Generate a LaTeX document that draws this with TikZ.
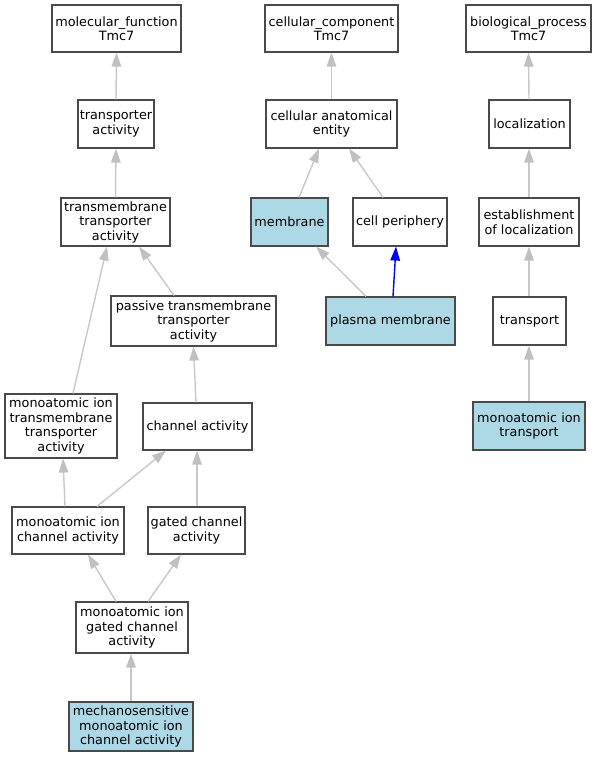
\documentclass[tikz,border=0pt]{standalone}
\usepackage{fontspec}
\setmainfont{DejaVu Sans}
\usetikzlibrary{arrows.meta}
\definecolor{edgegray}{HTML}{C8C8C8}
\definecolor{headgray}{HTML}{C0C0C0}
\definecolor{boxborder}{HTML}{4A4A4A}
\definecolor{hilite}{HTML}{ADD8E6}
\begin{document}
\begin{tikzpicture}[x=1pt,y=-1pt,
  term/.style={draw=boxborder, line width=1.1pt, fill=white, inner sep=0pt, align=center,
    font=\fontsize{12.8}{14.5}\selectfont},
  hl/.style={term, fill=hilite},
  edge/.style={draw=edgegray, line width=1.4pt, -{Triangle[length=14pt,width=9.5pt,fill=headgray,color=headgray]}},
  bedge/.style={draw=blue, line width=1.4pt, -{Triangle[length=14pt,width=9.5pt,fill=blue,color=blue]}}]
\useasboundingbox (0,0) rectangle (599,757);
% molecular function column
\node[term, minimum width=129pt, minimum height=47pt] (mf) at (116.5,28.5) {molecular\_function\\Tmc7};
\node[term, minimum width=76pt, minimum height=48pt] (ta) at (116,124) {transporter\\activity};
\node[term, minimum width=109pt, minimum height=48pt] (tta) at (115.5,222) {transmembrane\\transporter\\activity};
\node[term, minimum width=165pt, minimum height=50pt] (ptta) at (193.5,321) {passive transmembrane\\transporter\\activity};
\node[term, minimum width=112pt, minimum height=64pt] (mitta) at (61,426) {monoatomic ion\\transmembrane\\transporter\\activity};
\node[term, minimum width=109pt, minimum height=47pt] (ca) at (197.5,426.5) {channel activity};
\node[term, minimum width=112pt, minimum height=47pt] (mica) at (68,530.5) {monoatomic ion\\channel activity};
\node[term, minimum width=97pt, minimum height=47pt] (gca) at (196.5,530.5) {gated channel\\activity};
\node[term, minimum width=112pt, minimum height=51pt] (migca) at (132,627.5) {monoatomic ion\\gated channel\\activity};
\node[hl, minimum width=124pt, minimum height=49pt] (mech) at (131,726.5) {mechanosensitive\\monoatomic ion\\channel activity};
% cellular component column
\node[term, minimum width=133pt, minimum height=47pt] (cc) at (331.5,28.5) {cellular\_component\\Tmc7};
\node[term, minimum width=131pt, minimum height=48pt] (cae) at (331.5,124) {cellular anatomical\\entity};
\node[hl, minimum width=77pt, minimum height=48pt] (mem) at (289.5,222) {membrane};
\node[term, minimum width=94pt, minimum height=48pt] (cp) at (400,222) {cell periphery};
\node[hl, minimum width=129pt, minimum height=48pt] (pm) at (390.5,321) {plasma membrane};
% biological process column
\node[term, minimum width=125pt, minimum height=47pt] (bp) at (528.5,28.5) {biological\_process\\Tmc7};
\node[term, minimum width=81pt, minimum height=48pt] (loc) at (529.5,124) {localization};
\node[term, minimum width=100pt, minimum height=48pt] (est) at (529,222) {establishment\\of localization};
\node[term, minimum width=73pt, minimum height=48pt] (tr) at (529.5,321) {transport};
\node[hl, minimum width=112pt, minimum height=48pt] (mit) at (529,426) {monoatomic ion\\transport};
% edges
\draw[edge] (ta.north) -- (mf.south);
\draw[edge] (tta.north) -- (ta.south);
\draw[edge] ([xshift=-19.5pt]ptta.north) -- ([xshift=23.5pt]tta.south);
\draw[edge] ([xshift=12pt]mitta.north) -- ([xshift=-8.5pt]tta.south);
\draw[edge] ([xshift=-1.5pt]ca.north) -- (ptta.south);
\draw[edge] ([xshift=-3pt]mica.north) -- ([xshift=2pt]mitta.south);
\draw[edge] ([xshift=29pt]mica.north) -- ([xshift=-31.5pt]ca.south);
\draw[edge] ([xshift=0.5pt]gca.north) -- ([xshift=-0.5pt]ca.south);
\draw[edge] ([xshift=-16pt]migca.north) -- ([xshift=20pt]mica.south);
\draw[edge] ([xshift=16pt]migca.north) -- ([xshift=-15.5pt]gca.south);
\draw[edge] (mech.north) -- ([xshift=-1pt]migca.south);
\draw[edge] (cae.north) -- (cc.south);
\draw[edge] ([xshift=9.5pt]mem.north) -- ([xshift=-12.5pt]cae.south);
\draw[edge] ([xshift=-17pt]cp.north) -- ([xshift=17.5pt]cae.south);
\draw[edge] ([xshift=-24.5pt]pm.north) -- ([xshift=26.5pt]mem.south);
\draw[bedge] ([xshift=2.5pt]pm.north) -- ([xshift=-4pt]cp.south);
\draw[edge] ([xshift=-0.5pt]loc.north) -- (bp.south);
\draw[edge] (est.north) -- ([xshift=-0.5pt]loc.south);
\draw[edge] ([xshift=-0.5pt]tr.north) -- (est.south);
\draw[edge] (mit.north) -- ([xshift=-0.5pt]tr.south);
\end{tikzpicture}
\end{document}
